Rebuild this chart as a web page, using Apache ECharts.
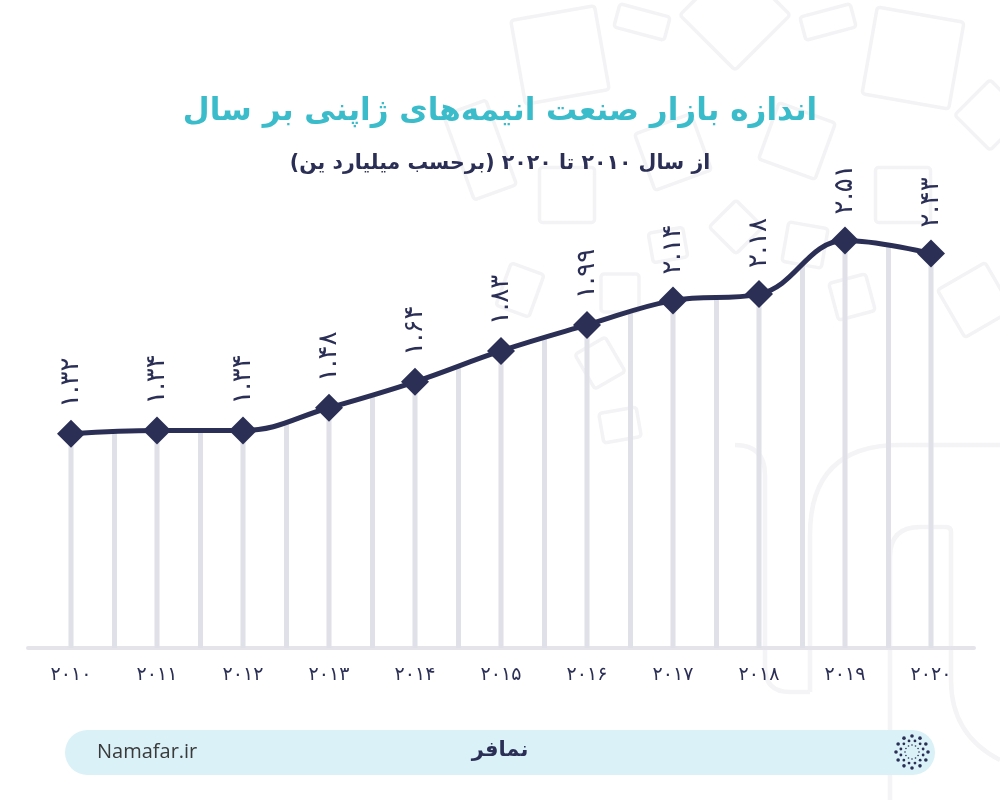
<!DOCTYPE html>
<html>
<head>
<meta charset="utf-8">
<script src="https://cdn.jsdelivr.net/npm/echarts@6/dist/echarts.min.js"></script>
<style>
html,body{margin:0;padding:0;background:#ffffff;}
#c{width:1000px;height:800px;}
</style>
</head>
<body>
<div id="c" dir="rtl"></div>
<script>
// ---------- data ----------
const years = ['2010','2011','2012','2013','2014','2015','2016','2017','2018','2019','2020'];
const values = [1.32, 1.34, 1.34, 1.48, 1.64, 1.83, 1.99, 2.14, 2.18, 2.51, 2.43];
const titleText = 'اندازه بازار صنعت انیمه‌های ژاپنی بر سال';
const subtitleText = 'از سال ۲۰۱۰ تا ۲۰۲۰ (برحسب میلیارد ین)';
const footerSite = 'Namafar.ir';
const footerLogo = 'نمافر';

// ---------- helpers ----------
const faDigits = '۰۱۲۳۴۵۶۷۸۹';
function toFa(s){ return String(s).replace(/[0-9]/g, d => faDigits[+d]); }

const NAVY = '#2b2f55';
const TEAL = '#3bbccb';
const STRIPE = '#e0e0e8';
const DECO = '#f3f3f6';
const FONT = 'DejaVu Sans';

function decorations(){
  const sq = [
    [560,55,85,85,10],[642,22,52,24,-15],[735,15,78,78,45],[828,22,52,24,15],
    [913,58,88,88,-10],[990,115,50,50,45],[673,152,60,60,20],[797,141,60,60,-20],
    [567,195,55,55,0],[903,195,55,55,0],[736,227,38,38,45],[805,245,40,40,-10],
    [852,297,38,38,15],[975,300,55,55,30],[520,290,35,45,-20],[620,293,38,38,0],
    [600,363,35,40,30],[668,245,35,30,10],[620,425,38,30,10],[480,150,45,90,20]
  ];
  const els = sq.map(([cx,cy,w,h,r]) => ({
    type:'rect', x:cx, y:cy, rotation: r*Math.PI/180, silent:true, z:-10,
    shape:{x:-w/2, y:-h/2, width:w, height:h, r:3},
    style:{fill:'none', stroke:DECO, lineWidth:3.5}
  }));
  const st = {fill:'none', stroke:'#f4f4f6', lineWidth:4.5};
  const L = (x1,y1,x2,y2) => ({type:'line', silent:true, z:-10, shape:{x1,y1,x2,y2}, style:st});
  const B = (x1,y1,cx,cy,x2,y2) => ({type:'bezierCurve', silent:true, z:-10, shape:{x1,y1,cpx1:cx,cpy1:cy,x2,y2}, style:st});
  els.push(
    L(1000,445,900,445), B(900,445,810,445,810,535), L(810,535,810,692),
    L(810,692,790,692), B(790,692,765,692,765,667), L(765,667,765,475),
    B(765,475,765,445,735,445),
    L(890,800,890,557), B(890,557,890,527,920,527), L(920,527,946,527),
    B(946,527,951,527,951,532), L(951,532,951,680), B(951,680,951,735,1000,760)
  );
  return els;
}

function footer(){
  const els = [
    {type:'rect', z:20, silent:true, shape:{x:65, y:730, width:870, height:45, r:22.5}, style:{fill:'#d9f1f7'}},
    {type:'text', z:21, silent:true, x:97, y:752, style:{text:footerSite, fill:'#3a3a3a', font:'20px "Open Sans"', textAlign:'left', textVerticalAlign:'middle'}},
    {type:'text', z:21, silent:true, x:500, y:751, style:{text:footerLogo, fill:NAVY, font:'bold 21px "DejaVu Sans"', textAlign:'center', textVerticalAlign:'middle'}}
  ];
  const cx = 912, cy = 752;
  const rings = [[16,12,1.8],[11.5,12,1.4],[7,12,0.8]];
  rings.forEach(([rad,n,s],k) => {
    for(let i=0;i<n;i++){
      const a = (i + (k%2?0.5:0)) * 2*Math.PI/n;
      els.push({type:'circle', z:22, silent:true, shape:{cx:cx+rad*Math.cos(a), cy:cy+rad*Math.sin(a), r:s}, style:{fill:NAVY}});
    }
  });
  return els;
}

const option = {
  animation:false,
  backgroundColor:'#ffffff',
  textStyle:{fontFamily:FONT},
  title:[
    {text:titleText, left:'center', top:91, textStyle:{color:TEAL, fontSize:31, fontWeight:'bold', fontFamily:FONT}},
    {text:subtitleText, left:'center', top:148, textStyle:{color:NAVY, fontSize:20.5, fontWeight:'bold', fontFamily:FONT}}
  ],
  grid:{left:28, right:26, top:161, bottom:152, containLabel:false},
  xAxis:{
    type:'category', data:years, boundaryGap:true,
    axisLine:{show:true, lineStyle:{color:'#e4e4ea', width:4}},
    axisTick:{show:false},
    splitLine:{show:false},
    axisLabel:{formatter:v=>toFa(v), color:NAVY, fontSize:19, margin:18, fontFamily:FONT}
  },
  yAxis:{type:'value', min:0, max:3, show:false, splitLine:{show:false}},
  graphic: decorations().concat(footer()),
  series:[
    {
      id:'drops', type:'bar', data:values, barWidth:5, silent:true,
      itemStyle:{color:STRIPE}, z:1
    },
    {
      id:'market', type:'line', data:values, smooth:0.4,
      symbol:'diamond', symbolSize:28,
      lineStyle:{color:NAVY, width:5},
      itemStyle:{color:NAVY},
      areaStyle:{color:'rgba(0,0,0,0)'},
      label:{show:true, position:'top', distance:12, rotate:90, align:'left', verticalAlign:'middle',
        formatter:p=>toFa(p.value.toFixed(2)), color:NAVY, fontSize:26, fontFamily:FONT},
      z:5
    }
  ]
};

const chart = echarts.init(document.getElementById('c'));
chart.setOption(option);

function buildStripes(){
  const cv = document.createElement('canvas');
  cv.width = 1000; cv.height = 800;
  const g = cv.getContext('2d');
  g.fillStyle = STRIPE;
  const yBase = chart.convertToPixel({yAxisIndex:0}, 0);
  const xs = years.map(y => chart.convertToPixel({xAxisIndex:0}, y));
  for (let i = 0; i < xs.length - 1; i++) {
    const xm = (xs[i] + xs[i+1]) / 2;
    g.fillRect(Math.round(xm - 2.5), 0, 5, Math.round(yBase));
  }
  return cv;
}
chart.setOption({series:[{id:'drops'},{id:'market', areaStyle:{color:{image:buildStripes(), repeat:'no-repeat'}, opacity:1}}]});
</script>
</body>
</html>
